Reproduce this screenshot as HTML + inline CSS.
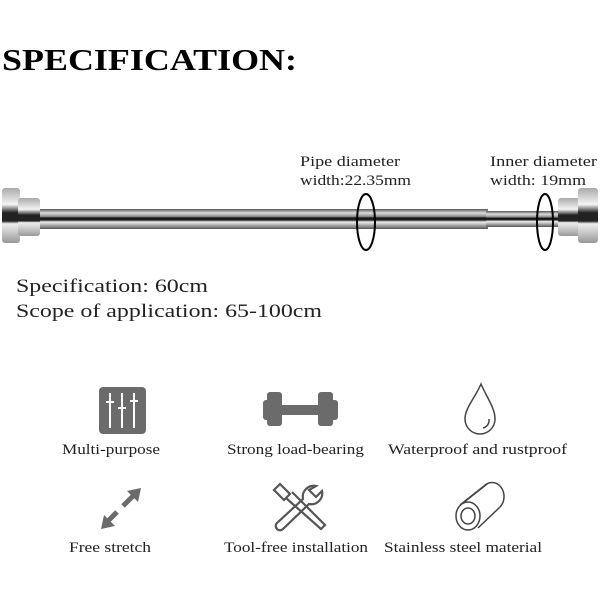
<!DOCTYPE html>
<html><head><meta charset="utf-8"><style>
html,body{margin:0;padding:0;background:#fff;width:600px;height:600px;overflow:hidden}
svg text{font-family:"Liberation Serif",serif;fill:#222}
</style></head><body>
<svg width="600" height="600" viewBox="0 0 600 600">
<defs>
<linearGradient id="pipe" x1="0" y1="0" x2="0" y2="1">
<stop offset="0" stop-color="#555"/><stop offset="0.2" stop-color="#ddd"/><stop offset="0.38" stop-color="#888"/><stop offset="0.45" stop-color="#111"/><stop offset="0.55" stop-color="#222"/><stop offset="0.65" stop-color="#eee"/><stop offset="0.85" stop-color="#999"/><stop offset="1" stop-color="#555"/>
</linearGradient>
<linearGradient id="cap" x1="0" y1="0" x2="0" y2="1">
<stop offset="0" stop-color="#aaa"/><stop offset="0.3" stop-color="#f4f4f4"/><stop offset="0.45" stop-color="#222"/><stop offset="0.6" stop-color="#222"/><stop offset="0.65" stop-color="#eee"/><stop offset="1" stop-color="#999"/>
</linearGradient>
</defs>
<text x="2" y="70" font-size="31" font-weight="bold" textLength="295" lengthAdjust="spacingAndGlyphs" style="fill:#000">SPECIFICATION:</text>
<text x="300" y="166" font-size="15" textLength="100" lengthAdjust="spacingAndGlyphs">Pipe diameter</text>
<text x="300" y="185" font-size="15" textLength="111" lengthAdjust="spacingAndGlyphs">width:22.35mm</text>
<text x="490" y="166" font-size="15" textLength="107" lengthAdjust="spacingAndGlyphs">Inner diameter</text>
<text x="490" y="185" font-size="15" textLength="96" lengthAdjust="spacingAndGlyphs">width: 19mm</text>
<rect x="38" y="209" width="450" height="20" fill="url(#pipe)"/>
<rect x="486" y="211" width="76" height="16" fill="url(#pipe)"/>
<rect x="2" y="188" width="18" height="55" rx="3" fill="url(#cap)"/>
<rect x="18" y="198" width="22" height="38" rx="3" fill="url(#cap)"/>
<rect x="558" y="198" width="22" height="38" rx="3" fill="url(#cap)"/>
<rect x="578" y="188" width="20" height="55" rx="3" fill="url(#cap)"/>
<ellipse cx="366" cy="222" rx="9" ry="28" fill="none" stroke="#000" stroke-width="2"/>
<ellipse cx="545" cy="222" rx="8" ry="28" fill="none" stroke="#000" stroke-width="2"/>
<text x="16" y="292" font-size="18.5" textLength="192" lengthAdjust="spacingAndGlyphs">Specification: 60cm</text>
<text x="16" y="317" font-size="18.5" textLength="306" lengthAdjust="spacingAndGlyphs">Scope of application: 65-100cm</text>
<!-- icons row 1 -->
<rect x="99" y="387" width="47" height="47" rx="4" fill="#6b6b6b"/>
<g stroke="#fff" stroke-width="2"><line x1="110" y1="393" x2="110" y2="428"/><line x1="122" y1="393" x2="122" y2="428"/><line x1="134" y1="393" x2="134" y2="428"/>
<line x1="106" y1="402" x2="114" y2="402"/><line x1="118" y1="408" x2="126" y2="408"/><line x1="130" y1="401" x2="138" y2="401"/></g>
<g fill="#6b6b6b"><rect x="263" y="400" width="8" height="20" rx="3"/><rect x="267" y="392" width="15" height="34" rx="3"/><rect x="280" y="405" width="40" height="10"/><rect x="318" y="392" width="15" height="34" rx="3"/><rect x="330" y="400" width="8" height="20" rx="3"/></g>
<path d="M481 384 C475 398 465 408 465 419 A15 15 0 0 0 495 419 C495 408 487 398 481 384Z" fill="none" stroke="#444" stroke-width="1.5"/>
<path d="M489 419 A8 8 0 0 1 483 428" fill="none" stroke="#444" stroke-width="1.5"/>
<text x="62" y="454" font-size="15" textLength="98" lengthAdjust="spacingAndGlyphs">Multi-purpose</text>
<text x="227" y="454" font-size="15" textLength="137" lengthAdjust="spacingAndGlyphs">Strong load-bearing</text>
<text x="388" y="454" font-size="15" textLength="179" lengthAdjust="spacingAndGlyphs">Waterproof and rustproof</text>
<!-- row 2 -->
<g stroke="#6b6b6b" stroke-width="5" fill="#6b6b6b"><line x1="107" y1="522" x2="117" y2="512"/><line x1="123" y1="506" x2="135" y2="494"/></g>
<polygon points="101,529 104,515 115,526" fill="#6b6b6b"/><polygon points="141,488 138,502 127,491" fill="#6b6b6b"/>
<g fill="none" stroke="#555" stroke-width="2.2">
<path d="M274 490 l6 -6 l10 10 l-6 6 z M286 498 l35 31 l4 -4 l-33 -33"/>
<path d="M316 486 a11 11 0 0 0 -13 13 l-26 24 a4 4 0 0 0 6 6 l26 -25 a11 11 0 0 0 13 -13 l-6 6 l-7 -7 z"/>
</g>
<g fill="none" stroke="#444" stroke-width="1.5">
<ellipse cx="468" cy="516" rx="12" ry="14"/><ellipse cx="468" cy="516" rx="7" ry="8"/>
<path d="M460 505 L484 486 M478 528 L500 507"/><path d="M484 486 A12 14 0 0 1 500 507"/>
<path d="M463 503 L487 484"/>
</g>
<text x="69" y="552" font-size="15" textLength="82" lengthAdjust="spacingAndGlyphs">Free stretch</text>
<text x="224" y="552" font-size="15" textLength="144" lengthAdjust="spacingAndGlyphs">Tool-free installation</text>
<text x="384" y="552" font-size="15" textLength="158" lengthAdjust="spacingAndGlyphs">Stainless steel material</text>
</svg>
</body></html>
